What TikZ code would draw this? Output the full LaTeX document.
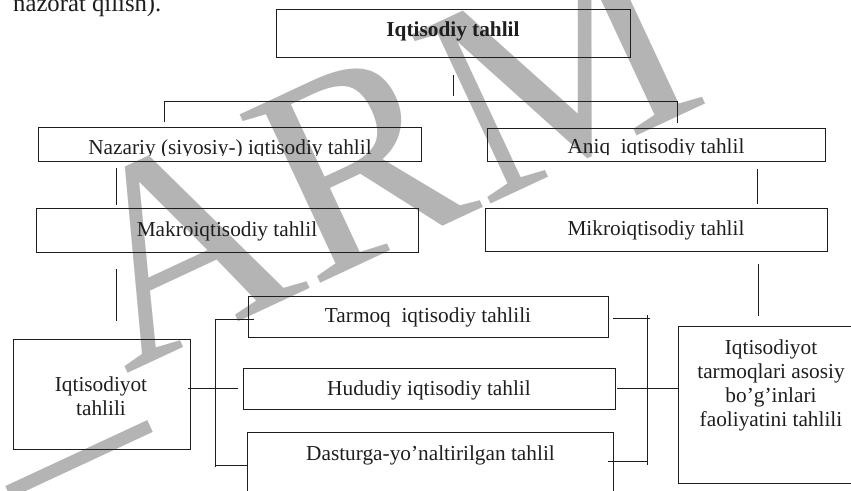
\documentclass[tikz,border=0pt]{standalone}
\usepackage{fontspec}
\setmainfont{Liberation Serif}
\usetikzlibrary{calc}
\definecolor{wmgray}{RGB}{180,180,180}
\definecolor{ink}{RGB}{30,30,30}
\begin{document}
\begin{tikzpicture}[x=1pt,y=-1pt,
  frame/.style={draw=ink, line width=1pt, inner sep=0pt, minimum width=#1},
  body/.style={inner sep=0pt, anchor=base, text=ink, font=\fontsize{21.3}{23.5}\selectfont},
  link/.style={draw=ink, line width=1pt}]
\useasboundingbox (0,0) rectangle (851,490);
\clip (0,0) rectangle (851,490);

% watermark lettering
\node[rotate=25, anchor=base west, inner sep=0pt, text=wmgray,
      font=\fontsize{285}{285}\selectfont] (wm) at (125,375) {ARM};
\coordinate (wbarA) at (8,492);
\coordinate (wbarB) at (150,426);
\draw[wmgray, line width=13pt] (wbarA) -- (wbarB);

% running text above the chart
\node[inner sep=0pt, anchor=base west, text=ink, font=\fontsize{24.7}{26}\selectfont] (prev) at (13,11.5) {nazorat qilish).};

% boxes
\node[frame=354, minimum height=47.5] (top) at (453,33.25) {};
\node[frame=383, minimum height=34] (nazar) at (229.5,144.5) {};
\node[frame=338, minimum height=33.5] (aniq) at (656,144.75) {};
\node[frame=382, minimum height=44] (makro) at (227,230) {};
\node[frame=342, minimum height=42.5] (mikro) at (656,229.75) {};
\node[frame=360, minimum height=41] (tarmoq) at (428,316.5) {};
\node[frame=372, minimum height=41] (hudud) at (429,388.5) {};
\node[frame=366, minimum height=78] (dastur) at (430,471) {};
\node[frame=177, minimum height=110] (iqt) at (101.5,394) {};
\node[frame=186, minimum height=157] (tarm) at (771,404.5) {};

% labels
\node[body, font=\fontsize{21.3}{23.5}\selectfont\bfseries] (topT) at (453,36) {Iqtisodiy tahlil};
\begin{scope}
  \clip (38,127.5) rectangle (421,155.2);
  \node[body] (nazarT) at (230,154) {Nazariy (siyosiy-) iqtisodiy tahlil};
\end{scope}
\begin{scope}
  \clip (487,128) rectangle (825,154.7);
  \node[body] (aniqT) at (656,153.5) {Aniq\ \ iqtisodiy tahlil};
\end{scope}
\node[body] (makroT) at (227,236) {Makroiqtisodiy tahlil};
\node[body] (mikroT) at (656,235) {Mikroiqtisodiy tahlil};
\node[body] (tarmoqT) at (428,322) {Tarmoq\ \ iqtisodiy tahlili};
\node[body] (hududT) at (429,395) {Hududiy iqtisodiy tahlil};
\node[body] (dasturT) at (430.5,460) {Dasturga-yo’naltirilgan tahlil};
\node[body] (iqtT1) at (101,391.5) {Iqtisodiyot};
\node[body] (iqtT2) at (101,415) {tahlili};
\node[body] (tarmT1) at (771,354) {Iqtisodiyot};
\node[body] (tarmT2) at (771,378) {tarmoqlari asosiy};
\node[body] (tarmT3) at (771,402) {bo’g’inlari};
\node[body] (tarmT4) at (771,426.5) {faoliyatini tahlili};

% connector end points
\coordinate (stubT) at (453,75);
\coordinate (stubB) at (453,96);
\coordinate (busL) at (164,101);
\coordinate (busR) at (677,101);
\coordinate (dropL) at (164,122);
\coordinate (dropR) at (677,123);
\coordinate (l1a) at (116,168);
\coordinate (l1b) at (116,205);
\coordinate (l2a) at (116,269);
\coordinate (l2b) at (116,321);
\coordinate (r1a) at (757,169);
\coordinate (r1b) at (757,204);
\coordinate (r2a) at (758,264);
\coordinate (r2b) at (758,315.5);
\coordinate (bl1) at (215,319);
\coordinate (bl2) at (215,466.5);
\coordinate (blTop) at (254,319);
\coordinate (blBot) at (247,465.5);
\coordinate (blMidA) at (188,388);
\coordinate (blMidB) at (238,388);
\coordinate (br1) at (647,315);
\coordinate (br2) at (647,465);
\coordinate (brTop) at (613,318.5);
\coordinate (brTopE) at (650,318.5);
\coordinate (brMid) at (617,388);
\coordinate (brBot) at (608,461);

% connectors
\draw[link] (stubT) -- (stubB);
\draw[link] (dropL) -- (busL) -- (busR) -- (dropR);
\draw[link] (l1a) -- (l1b);
\draw[link] (l2a) -- (l2b);
\draw[link] (r1a) -- (r1b);
\draw[link] (r2a) -- (r2b);
\draw[link] (blTop) -- (bl1) -- (bl2);
\draw[link] (bl2 |- blBot) -- (blBot);
\draw[link] (blMidA) -- (blMidB);
\draw[link] (br1) -- (br2);
\draw[link] (brTop) -- (brTopE);
\draw[link] (brMid) -- (brMid -| tarm.west);
\draw[link] (brBot) -- (brBot -| br2);
\end{tikzpicture}
\end{document}
